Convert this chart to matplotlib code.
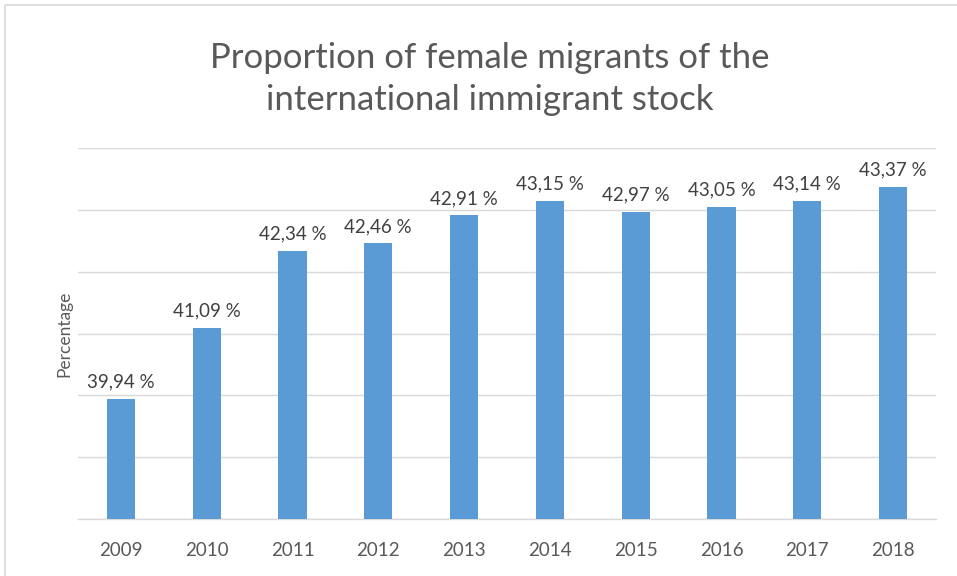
import matplotlib
matplotlib.use("Agg")
import matplotlib.pyplot as plt
from matplotlib.patches import Rectangle

years = ["2009", "2010", "2011", "2012", "2013", "2014", "2015", "2016", "2017", "2018"]
female_share = [39.94, 41.09, 42.34, 42.46, 42.91, 43.15, 42.97, 43.05, 43.14, 43.37]
value_labels = ["39,94 %", "41,09 %", "42,34 %", "42,46 %", "42,91 %",
                "43,15 %", "42,97 %", "43,05 %", "43,14 %", "43,37 %"]

plt.rcParams["font.family"] = ["Lato", "DejaVu Sans"]

fig = plt.figure(figsize=(9.57, 5.76), dpi=100)
fig.patch.set_facecolor("white")

# light frame around the chart area
fig.patches.append(Rectangle((5 / 957, -0.01), 1.0, 1 - 5 / 576 + 0.01,
                             transform=fig.transFigure, fill=False,
                             edgecolor="#D9D9D9", linewidth=1.2))

ax = fig.add_axes([78 / 957, 1 - 519 / 576, (936 - 78) / 957, (519 - 148) / 576])
x = range(len(years))
ax.bar(x, female_share, width=0.33, color="#5B9BD5", zorder=3)
ax.set_ylim(38, 44)
ax.set_xlim(-0.5, len(years) - 0.5)
ax.set_yticks(range(38, 45))
ax.yaxis.grid(True, color="#D9D9D9", linewidth=1.0, zorder=0)
ax.tick_params(axis="y", left=False, labelleft=False)
ax.tick_params(axis="x", bottom=False, labelsize=13.5, labelcolor="#595959", pad=13)
ax.set_xticks(list(x))
ax.set_xticklabels(years)
for side in ["top", "right", "left"]:
    ax.spines[side].set_visible(False)
ax.spines["bottom"].set_color("#D9D9D9")
ax.spines["bottom"].set_linewidth(1.0)

for xi, v, lab in zip(x, female_share, value_labels):
    ax.annotate(lab, (xi, v), xytext=(0, 6), textcoords="offset points",
                ha="center", va="bottom", fontsize=13.5, color="#404040")

ax.set_ylabel("Percentage", fontsize=12.5, color="#595959", labelpad=4)

fig.text(490 / 957, 1 - 79 / 576,
         "Proportion of female migrants of the\ninternational immigrant stock",
         ha="center", va="center", fontsize=25, color="#595959",
         linespacing=1.4)

fig.savefig("out.png", dpi=100, facecolor="white")
